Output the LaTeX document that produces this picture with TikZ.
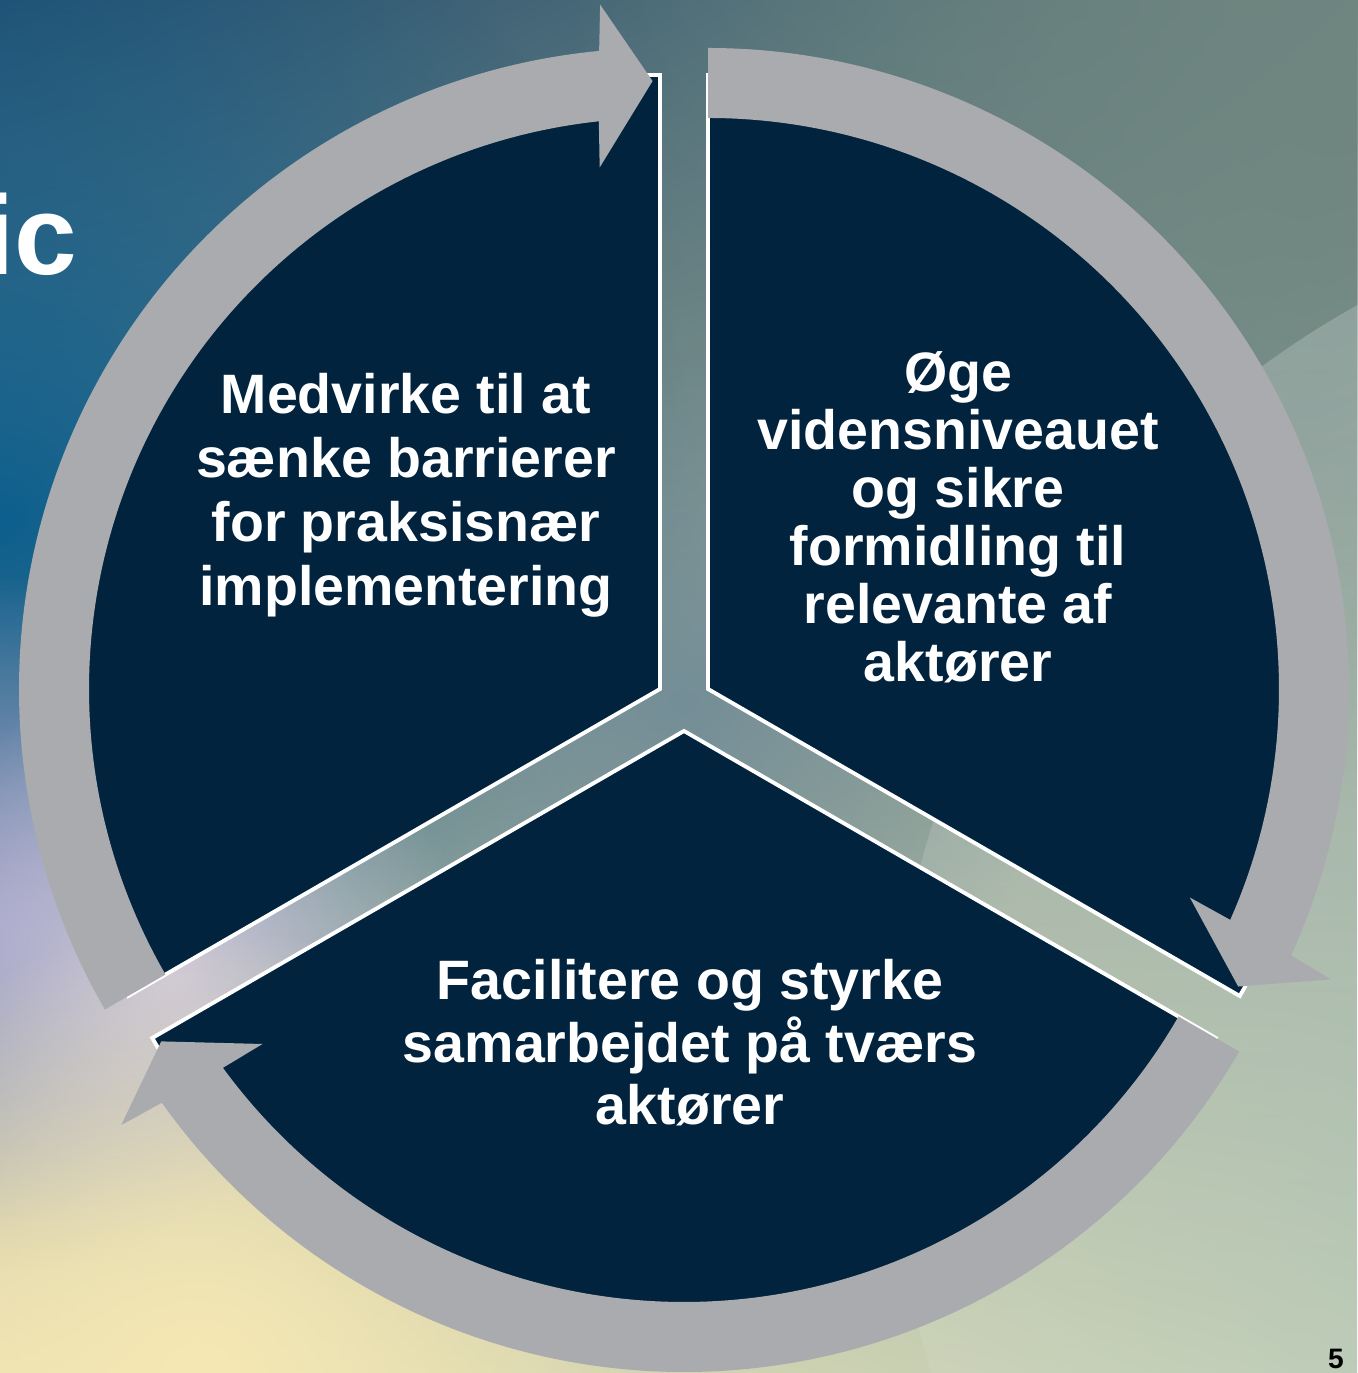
\documentclass[tikz,border=0pt]{standalone}
\usepackage{fontspec}
\setmainfont{Liberation Sans}
\usetikzlibrary{fadings,shadings}

\definecolor{navy}{RGB}{1,35,61}
\definecolor{ringgray}{RGB}{170,171,175}
\definecolor{bgtl}{RGB}{38,80,112}
\definecolor{bgtr}{RGB}{110,133,128}
\definecolor{bgbl}{RGB}{236,224,178}
\definecolor{bgbr}{RGB}{184,200,178}
\definecolor{bgblue}{RGB}{13,95,142}
\definecolor{bglilac}{RGB}{155,155,198}
\definecolor{bgpale}{RGB}{206,200,218}
\definecolor{bgmid}{RGB}{116,142,152}
\definecolor{bgyellow}{RGB}{245,232,180}
\tikzfading[name=blobfade,inner color=transparent!0,outer color=transparent!100]
\tikzfading[name=lightfade,top color=transparent!0,middle color=transparent!50,bottom color=transparent!100]

\begin{document}
\begin{tikzpicture}[x=.1mm,y=.1mm,
	sector/.style={fill=navy,draw=white,line width=1.1pt},
	ring/.style={fill=ringgray},
	blocktext/.style={text=white,align=center,inner sep=0pt,font=\bfseries\fontsize{15.8pt}{#1}\selectfont}]
	\useasboundingbox (0,0) rectangle (1357,1373);
	
	% background
	\shade[upper left=bgtl,upper right=bgtr,lower left=bgbl,lower right=bgbr] (0,0) rectangle (1357,1373);
	\fill[bgtr,path fading=blobfade] (1357,1373) circle (800);
	\fill[bgblue,path fading=blobfade] (0,853) circle (700);
	\fill[bgmid,path fading=blobfade] (684,670) circle (380);
	\fill[bglilac,path fading=blobfade] (0,450) circle (350);
	\fill[bgpale,path fading=blobfade] (170,400) circle (300);
	\fill[bgyellow,path fading=blobfade] (200,0) circle (450);
	\fill[white,opacity=.22,path fading=lightfade] (1800,273) circle (910);
	
	\coordinate (s1) at (660,684);
	\coordinate (s2) at (708,684);
	\coordinate (s3) at (684,642);
	
	\draw[sector,shift={(s1)}] (0,0) -- (90:614) arc[start angle=90,end angle=210,radius=614] -- cycle;
	\draw[sector,shift={(s2)}] (0,0) -- (-30:614) arc[start angle=-30,end angle=90,radius=614] -- cycle;
	\draw[sector,shift={(s3)}] (0,0) -- (210:614) arc[start angle=210,end angle=330,radius=614] -- cycle;
	
	\fill[ring,shift={(s1)}] (210:641) arc[start angle=210,end angle=95.45,radius=641] -- (95:687) -- (90.7:608) -- (96.6:525) -- (96.15:571) arc[start angle=96.15,end angle=210,radius=571] -- cycle;
	\fill[ring,shift={(s2)}] (90:641) arc[start angle=90,end angle=-24.55,radius=641] -- (-25:687) -- (-29.3:608) -- (-23.4:525) -- (-23.85:571) arc[start angle=-23.85,end angle=90,radius=571] -- cycle;
	\fill[ring,shift={(s3)}] (330:641) arc[start angle=330,end angle=215.45,radius=641] -- (215:687) -- (210.7:608) -- (216.6:525) -- (216.15:571) arc[start angle=216.15,end angle=330,radius=571] -- cycle;
	
	\node[blocktext=18.2pt] (medvirke) at (406,878) {Medvirke til at\\sænke barrierer\\for praksisnær\\implementering};
	\node[blocktext=16.5pt] (oege) at (958,856) {Øge\\vidensniveauet\\og sikre\\formidling til\\relevante af\\aktører};
	\node[blocktext=17.8pt] (facilitere) at (690,330) {Facilitere og styrke\\samarbejdet på tværs\\aktører};
	
	\node[text=white,anchor=base east,inner sep=0pt,font=\bfseries\fontsize{32pt}{38pt}\selectfont] (titleend) at (78,1098) {ic};
	\node[anchor=base,inner sep=0pt,font=\bfseries\fontsize{8pt}{9pt}\selectfont] (pagenum) at (1336,4) {5};
\end{tikzpicture}
\end{document}
